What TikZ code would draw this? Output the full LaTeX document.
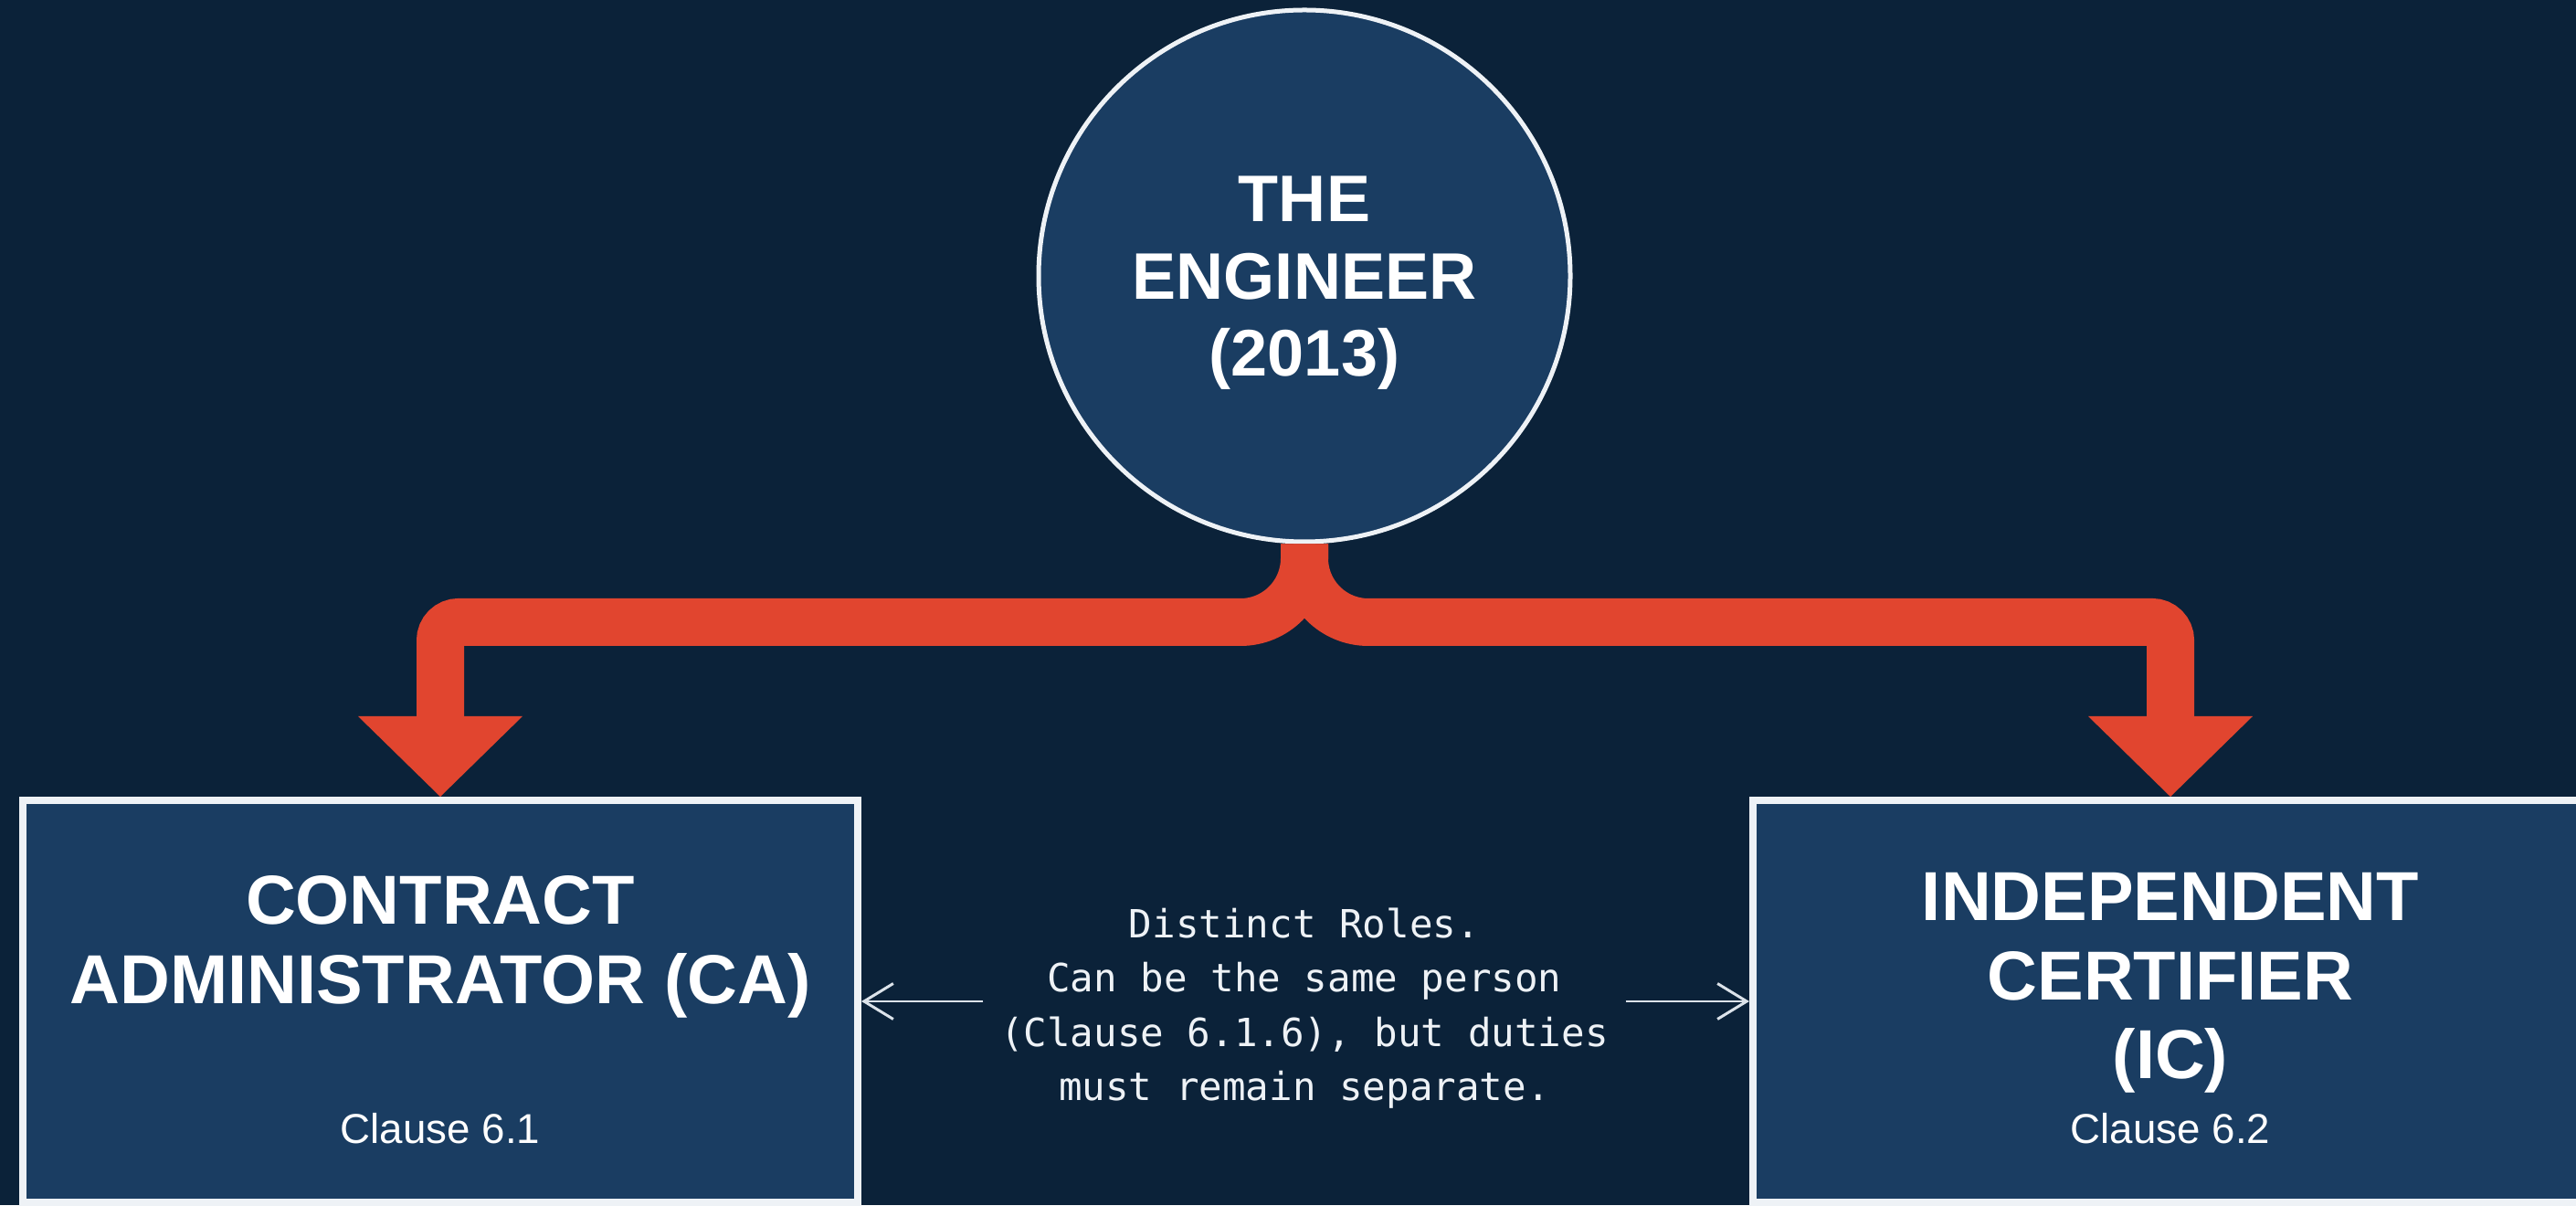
\documentclass[tikz,border=0pt]{standalone}
\usepackage{fontspec}
\setmainfont{Liberation Sans}
\newfontfamily\notefont{DejaVu Sans Mono}
\usetikzlibrary{arrows.meta}

\definecolor{night}{HTML}{0B2239}
\definecolor{panel}{HTML}{1A3D62}
\definecolor{rim}{HTML}{EEF2F6}
\definecolor{flowred}{HTML}{E1452F}
\definecolor{faint}{HTML}{DCE3EA}

\tikzset{
  role/.style={draw=rim, line width=0.8mm, fill=panel, minimum width=9.14cm,
    minimum height=4.4cm, inner sep=0pt},
  head/.style={text=white, align=center, font=\bfseries\fontsize{21.6}{24.6}\selectfont},
  clause/.style={text=white, font=\fontsize{13}{15}\selectfont},
  note/.style={text=rim, align=center, inner xsep=0.18cm,
    font=\notefont\fontsize{12.1}{16.9}\selectfont},
  flow/.style={draw=flowred, line width=5.2mm},
  bigtip/.style={-{Triangle[length=8.8mm,width=18mm,line width=0pt]}},
  pair/.style={draw=faint, line width=0.85pt, -{Straight Barb[length=3.2mm,width=3.9mm]}},
}

\begin{document}
\begin{tikzpicture}
  \fill[night] (0,0) rectangle (28.2,13.19);
  \useasboundingbox (0,0) rectangle (28.2,13.19);
  \clip (0,0) rectangle (28.2,13.19);

  % the engineer on top
  \node[circle, draw=rim, line width=0.5mm, fill=panel, minimum size=5.82cm, inner sep=0pt] (eng) at (14.28,10.17) {};
  \node[head, font=\bfseries\fontsize{20.5}{24}\selectfont] (engtext) at (14.28,10.09) {THE\\ENGINEER\\(2013)};

  % the two roles
  \node[role] (ca) at (4.82,2.23) {};
  \node[role, minimum width=9.4cm] (ic) at (23.89,2.23) {};
  \node[head] (catext) at (4.82,2.825) {CONTRACT\\ADMINISTRATOR (CA)};
  \node[clause] (caclause) at (4.82,0.84) {Clause 6.1};
  \node[head] (ictext) at (23.76,2.43) {INDEPENDENT\\CERTIFIER\\(IC)};
  \node[clause] (icclause) at (23.76,0.84) {Clause 6.2};

  % split below the circle
  \coordinate (fork) at (14.28,6.38);
  \coordinate (forkl) at (9.5,6.38);
  \coordinate (forkr) at (19.0,6.38);
  \draw[flow, rounded corners=7mm] (eng.south) -- (fork) -- (forkl);
  \draw[flow, rounded corners=7mm] (eng.south) -- (fork) -- (forkr);
  \draw[flow, bigtip, rounded corners=2mm] (forkl) -| (ca.north);
  \draw[flow, bigtip, rounded corners=2mm] (forkr) -| (ictext.north |- ic.north);

  % note between the boxes
  \node[note] (roles) at (14.28,2.155) {Distinct Roles.\\Can be the same person\\(Clause 6.1.6), but duties\\must remain separate.};
  \draw[pair] (roles.west |- ca.east) -- (ca.east);
  \draw[pair] (roles.east |- ic.west) -- (ic.west);
\end{tikzpicture}
\end{document}
